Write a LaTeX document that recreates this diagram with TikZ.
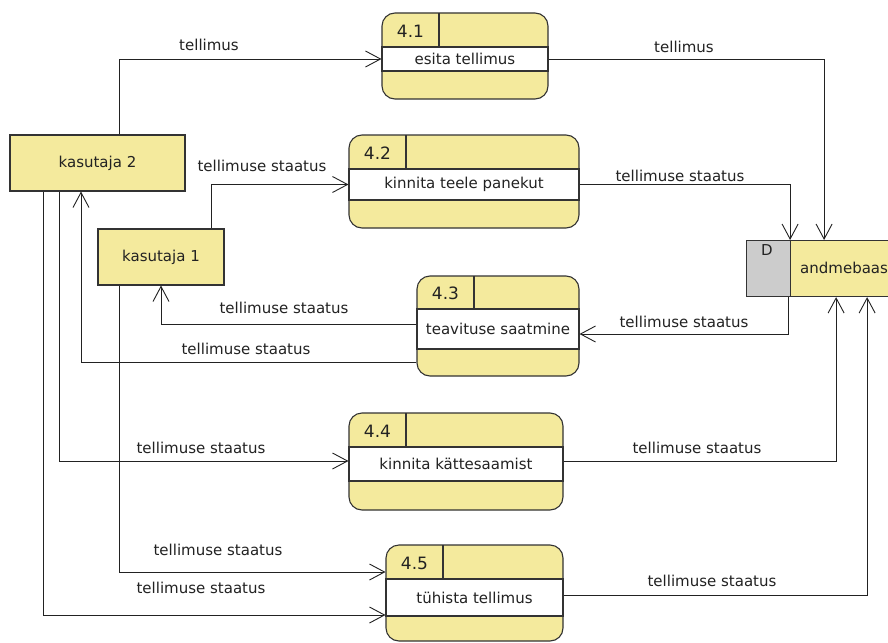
\documentclass[tikz,border=0pt]{standalone}
\usepackage{fontspec}
\setmainfont{DejaVu Sans}
\usetikzlibrary{arrows.meta,calc}
\definecolor{procy}{RGB}{244,234,157}
\definecolor{edgec}{RGB}{51,51,51}
\definecolor{dgray}{RGB}{204,204,204}
\definecolor{txt}{RGB}{34,34,34}
\tikzset{
  flow/.style={draw=txt, line width=0.9pt, -{Straight Barb[length=15pt,width=16pt,line width=0.9pt]}},
  lbl/.style={font=\fontsize{15}{17}\selectfont, text=txt, inner sep=0pt},
  numlbl/.style={font=\fontsize{17}{19}\selectfont, text=txt, inner sep=0pt},
  procbox/.style={draw=edgec, fill=procy, line width=1.1pt, rounded corners=13pt, inner sep=0pt},
  bandbox/.style={draw=edgec, fill=white, line width=1.1pt, inner sep=0pt, font=\fontsize{15}{17}\selectfont, text=txt},
  entity/.style={draw=edgec, fill=procy, line width=1.1pt, inner sep=0pt, font=\fontsize{15}{17}\selectfont, text=txt},
}
% #1 index, #2 x1, #3 y1, #4 x2, #5 y2, #6 divider x, #7 header line y, #8 band bottom y, #9 text
\newcommand\procshape[9]{%
  \node[procbox, minimum width={#4-#2}, minimum height={#5-#3}] (p#1) at ({(#2+#4)/2},{(#3+#5)/2}) {};
  \node[bandbox, minimum width={#4-#2}, minimum height={#8-#7}] (p#1b) at ({(#2+#4)/2},{(#7+#8)/2}) {#9};
  \draw[edgec, line width=1.1pt] (#6,#3) -- (#6,#7);
  \node[numlbl] (n#1) at ({(#2+#6)/2},{(#3+#7)/2+1}) {4.#1};
}
\begin{document}
\begin{tikzpicture}[x=1pt,y=-1pt]
\useasboundingbox (0,0) rectangle (888,642);
\clip (0,0) rectangle (888,642);
\fill[white] (0,0) rectangle (888,642);

% processes
\procshape{1}{382}{13}{548}{99}{439}{47}{71}{esita tellimus}
\procshape{2}{349}{135}{579}{228}{406}{169}{200}{kinnita teele panekut}
\procshape{3}{417}{276}{579}{376}{474}{309}{349}{teavituse saatmine}
\procshape{4}{349}{413}{563}{510}{406}{447}{481}{kinnita kättesaamist}
\procshape{5}{386}{545}{563}{641}{443}{579}{616}{tühista tellimus}

% entities
\node[entity, minimum width=175, minimum height=56] (k2) at (97.5,163) {kasutaja 2};
\node[entity, minimum width=126, minimum height=56] (k1) at (161,257) {kasutaja 1};

% data store
\node[draw=edgec, fill=dgray, line width=1.1pt, minimum width=44, minimum height=56, anchor=north west, inner sep=0pt] (dbD) at (746,240) {};
\node[entity, minimum width=140, minimum height=56, anchor=north west] (db) at (790,240) {};
\node[lbl, anchor=north] (dlab) at (767,244) {D};
\node[lbl, anchor=west] (dbtext) at (800,268) {andmebaas};

% connectors
\draw[flow] ([xshift=21.5]k2.north) |- (p1b.west);
\draw[flow] (p1b.east) -| ([xshift=33]dbD.north east);
\draw[flow] ([xshift=50]k1.north) |- (p2b.west);
\draw[flow] (p2b.east) -| ([xshift=-1]dbD.north east);
\draw[flow] ([xshift=-3]dbD.south east) |- ([yshift=-5]p3b.east);
\draw[flow] ([yshift=5]p3b.west) -| (k1.south);
\draw[flow] ([yshift=-36]p3.west) -| ([xshift=-16.5]k2.south);
\draw[flow] ([xshift=-38.5]k2.south) |- ([yshift=3]p4b.west);
\draw[flow] ([yshift=3]p4b.east) -| ([xshift=45]dbD.south east);
\draw[flow] ([xshift=-42]k1.south) |- ([yshift=25.5]p5b.west);
\draw[flow] ([xshift=-54.5]k2.south) |- ([yshift=-17.5]p5b.west);
\draw[flow] ([yshift=2.5]p5b.east) -| ([xshift=76]dbD.south east);

% labels
\node[lbl] (l1) at (209,45) {tellimus};
\node[lbl] (l2) at (684,47) {tellimus};
\node[lbl] (l3) at (262,166) {tellimuse staatus};
\node[lbl] (l4) at (680,176) {tellimuse staatus};
\node[lbl] (l5) at (684,322) {tellimuse staatus};
\node[lbl] (l6) at (284,308) {tellimuse staatus};
\node[lbl] (l7) at (246,349) {tellimuse staatus};
\node[lbl] (l8) at (201,448) {tellimuse staatus};
\node[lbl] (l9) at (697,448) {tellimuse staatus};
\node[lbl] (l10) at (218,550) {tellimuse staatus};
\node[lbl] (l11) at (201,588) {tellimuse staatus};
\node[lbl] (l12) at (712,581) {tellimuse staatus};
\end{tikzpicture}
\end{document}
